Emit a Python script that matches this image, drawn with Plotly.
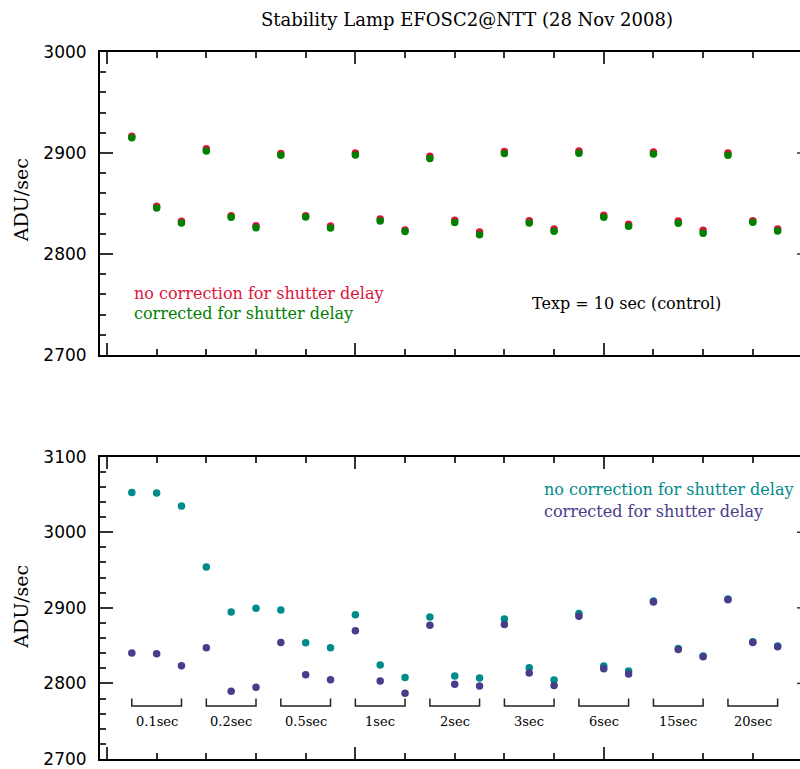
import plotly.graph_objects as go

# Exposure index along the sequence (1..27)
frame_index = list(range(1, 28))

# Texp = 10 sec control sequence
control_raw = [2916.7, 2847.2, 2832.4, 2904.3, 2838.0, 2828.0, 2899.4, 2838.0, 2827.8,
               2900.0, 2834.7, 2823.8, 2896.7, 2833.5, 2821.7, 2901.4, 2833.0, 2824.8,
               2902.0, 2838.3, 2829.5, 2901.0, 2832.7, 2823.5, 2900.0, 2833.0, 2824.8]
control_corr = [2915.2, 2845.5, 2830.7, 2902.0, 2836.4, 2826.1, 2897.7, 2836.7, 2825.8,
                2898.0, 2832.7, 2822.2, 2894.5, 2831.2, 2819.1, 2899.4, 2830.7, 2822.6,
                2899.7, 2836.4, 2827.5, 2899.0, 2830.4, 2820.6, 2897.7, 2831.4, 2822.8]

# Short/long exposures, three frames per exposure time
exptime_raw = [3052.7, 3051.8, 3034.6, 2953.9, 2894.6, 2899.5, 2897.2, 2853.8, 2847.2,
               2891.0, 2824.4, 2808.0, 2888.0, 2809.9, 2807.2, 2885.4, 2820.8, 2804.6,
               2892.4, 2823.0, 2816.5, 2909.0, 2846.2, 2836.2, 2911.7, 2855.0, 2849.4]
exptime_corr = [2840.2, 2839.3, 2823.5, 2847.2, 2789.6, 2794.9, 2854.1, 2811.6, 2805.0,
                2869.6, 2803.3, 2787.0, 2877.0, 2798.8, 2796.7, 2877.9, 2813.8, 2797.1,
                2888.9, 2819.5, 2812.5, 2907.8, 2845.0, 2835.3, 2910.8, 2854.1, 2848.5]

# Exposure-time groups: label and first / last frame index
group_labels = ["0.1sec", "0.2sec", "0.5sec", "1sec", "2sec", "3sec", "6sec", "15sec", "20sec"]
group_first = [1, 4, 7, 10, 13, 16, 19, 22, 25]
group_last = [3, 6, 9, 12, 15, 18, 21, 24, 27]

# Bracket geometry (ADU/sec levels in the lower panel)
BRACKET_TOP = 2780
BRACKET_BASE = 2770
BRACKET_LABEL_Y = 2749

RED = "#dc143c"
GREEN = "#008000"
TEAL = "#008b8b"
PURPLE = "#483d8b"
SERIF = "DejaVu Serif"
SANS = "DejaVu Sans"

fig = go.Figure()

fig.add_trace(go.Scatter(x=frame_index, y=control_raw, mode="markers",
                         marker=dict(color=RED, size=7.5), xaxis="x", yaxis="y"))
fig.add_trace(go.Scatter(x=frame_index, y=control_corr, mode="markers",
                         marker=dict(color=GREEN, size=7.5), xaxis="x", yaxis="y"))
fig.add_trace(go.Scatter(x=frame_index, y=exptime_raw, mode="markers",
                         marker=dict(color=TEAL, size=7.5), xaxis="x2", yaxis="y2"))
fig.add_trace(go.Scatter(x=frame_index, y=exptime_corr, mode="markers",
                         marker=dict(color=PURPLE, size=7.5), xaxis="x2", yaxis="y2"))

# Group brackets under each exposure time
bx, by = [], []
for a, b in zip(group_first, group_last):
    bx += [a, a, b, b, None]
    by += [BRACKET_TOP, BRACKET_BASE, BRACKET_BASE, BRACKET_TOP, None]
fig.add_trace(go.Scatter(x=bx, y=by, mode="lines", line=dict(color="#222", width=1.5),
                         xaxis="x2", yaxis="y2", hoverinfo="skip"))

annotations = []
for lab, a, b in zip(group_labels, group_first, group_last):
    annotations.append(dict(text=lab, x=(a + b) / 2, y=BRACKET_LABEL_Y, xref="x2", yref="y2",
                            showarrow=False, font=dict(family=SERIF, size=13, color="black")))

XRANGE = [-0.28, 27.9]


def xaxis_style(anchor):
    return dict(range=XRANGE, anchor=anchor, showgrid=False, zeroline=False,
                showticklabels=False, showline=True, linecolor="black", linewidth=2,
                mirror="ticks", ticks="inside", tick0=0, dtick=10, ticklen=12,
                tickwidth=1.5, tickcolor="#333",
                minor=dict(ticks="inside", tick0=0, dtick=2, ticklen=6,
                           tickwidth=1.5, tickcolor="#333"))


def yaxis_style(rng, anchor, domain):
    return dict(range=rng, domain=domain, anchor=anchor, showgrid=False, zeroline=False,
                showline=True, linecolor="black", linewidth=2, mirror=False,
                ticks="inside", dtick=100, ticklen=13, tickwidth=1.5, tickcolor="#333",
                ticklabelstandoff=8,
                tickfont=dict(family=SANS, size=17, color="black"),
                minor=dict(ticks="inside", dtick=20, ticklen=6, tickwidth=1.5,
                           tickcolor="#333"))


fig.update_layout(
    width=800, height=769,
    margin=dict(l=100, r=0, t=52, b=6),
    paper_bgcolor="white", plot_bgcolor="white",
    showlegend=False,
    xaxis=xaxis_style("y"),
    yaxis=yaxis_style([2700, 3000], "x", [0.5714, 1.0]),
    xaxis2=xaxis_style("y2"),
    yaxis2=yaxis_style([2700, 3100], "x2", [0.0, 0.4276]),
)

# Short major-tick stubs along the right edge
shapes = []
for yref, top in (("y", 3000), ("y2", 3100)):
    for v in range(2800, top, 100):
        shapes.append(dict(type="line", xref="paper", yref=yref, x0=1 - 3 / 700, x1=1,
                           y0=v, y1=v, line=dict(color="#333", width=1.5)))
fig.update_layout(shapes=shapes)

annotations += [
    dict(text="Stability Lamp EFOSC2@NTT (28 Nov 2008)", x=0.5243, y=1.0464,
         xref="paper", yref="paper", showarrow=False, xanchor="center", yanchor="middle",
         font=dict(family=SERIF, size=18, color="black")),
    dict(text="ADU/sec", x=-0.1129, y=0.7904, xref="paper", yref="paper", showarrow=False,
         textangle=-90, xanchor="center", yanchor="middle",
         font=dict(family=SERIF, size=19, color="black")),
    dict(text="ADU/sec", x=-0.1129, y=0.2152, xref="paper", yref="paper", showarrow=False,
         textangle=-90, xanchor="center", yanchor="middle",
         font=dict(family=SERIF, size=19, color="black")),
    dict(text="no correction for shutter delay", x=0.0464, y=0.6582, xref="paper",
         yref="paper", showarrow=False, xanchor="left", yanchor="middle",
         font=dict(family=SERIF, size=16, color=RED)),
    dict(text="corrected for shutter delay", x=0.0464, y=0.6301, xref="paper",
         yref="paper", showarrow=False, xanchor="left", yanchor="middle",
         font=dict(family=SERIF, size=16, color=GREEN)),
    dict(text="Texp = 10 sec (control)", x=0.6136, y=0.6442, xref="paper",
         yref="paper", showarrow=False, xanchor="left", yanchor="middle",
         font=dict(family=SERIF, size=16, color="black")),
    dict(text="no correction for shutter delay", x=0.6319, y=0.3816, xref="paper",
         yref="paper", showarrow=False, xanchor="left", yanchor="middle",
         font=dict(family=SERIF, size=16, color=TEAL)),
    dict(text="corrected for shutter delay", x=0.6319, y=0.3502, xref="paper",
         yref="paper", showarrow=False, xanchor="left", yanchor="middle",
         font=dict(family=SERIF, size=16, color=PURPLE)),
]
fig.update_layout(annotations=annotations)

fig.write_html("out.html")
